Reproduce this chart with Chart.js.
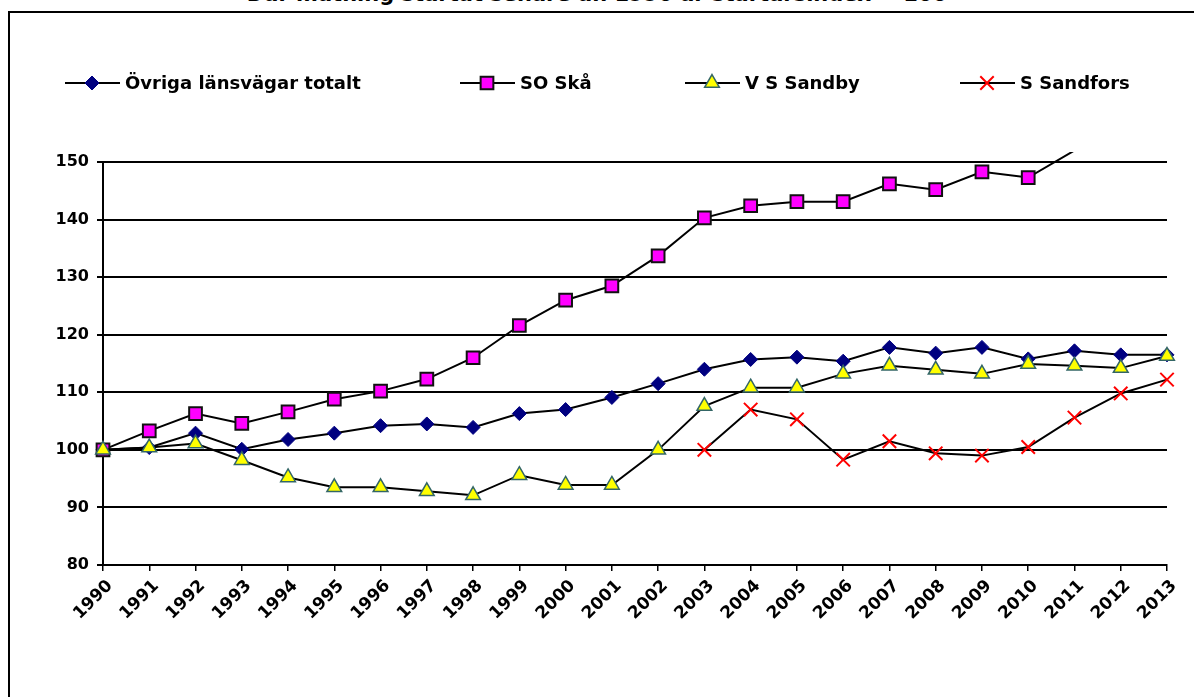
<!DOCTYPE html>
<html>
<head>
<meta charset="utf-8">
<script src="https://cdn.jsdelivr.net/npm/chart.js@4/dist/chart.umd.min.js"></script>
<style>
  html, body { margin:0; padding:0; background:#fff; overflow:hidden; }
  #wrap { position:relative; width:1194px; height:697px; overflow:hidden; }
  #frame { position:absolute; left:8px; top:11px; width:1200px; height:700px; border:2px solid #000; box-sizing:border-box; }
  #title { position:absolute; left:0; top:-18px; width:1194px; text-align:center; font:bold 21px 'DejaVu Sans', sans-serif; color:#000; white-space:nowrap; }
  canvas { position:absolute; left:0; top:0; }
</style>
</head>
<body>
<div id="wrap">
  <div id="title">Där mätning startat senare än 1990 är startårsindex = 100</div>
  <div id="frame"></div>
  <canvas id="c" width="1194" height="697"></canvas>
</div>
<script>
const years = ['1990','1991','1992','1993','1994','1995','1996','1997','1998','1999','2000','2001','2002','2003','2004','2005','2006','2007','2008','2009','2010','2011','2012','2013'];
const seriesNames = ['Övriga länsvägar totalt', 'SO Skå', 'V S Sandby', 'S Sandfors'];
const ovriga   = [100, 100.4, 102.9, 100.1, 101.8, 102.9, 104.2, 104.5, 103.9, 106.3, 107.0, 109.1, 111.5, 114.0, 115.7, 116.1, 115.4, 117.8, 116.8, 117.8, 115.8, 117.2, 116.5, 116.5];
const soSka    = [100, 103.3, 106.3, 104.6, 106.6, 108.8, 110.2, 112.3, 116.0, 121.6, 126.0, 128.5, 133.7, 140.3, 142.4, 143.1, 143.1, 146.2, 145.2, 148.3, 147.3, 152.0, 156.0, 158.0];
const vsSandby = [100, 100.4, 101.1, 98.2, 95.2, 93.5, 93.5, 92.8, 92.1, 95.6, 93.9, 93.9, 100.0, 107.6, 110.8, 110.8, 113.2, 114.6, 113.9, 113.2, 114.9, 114.6, 114.2, 116.3];
const sSandfors = [null, null, null, null, null, null, null, null, null, null, null, null, null, 100.0, 107.0, 105.3, 98.3, 101.5, 99.4, 99.0, 100.5, 105.6, 109.8, 112.2];
const yMin = 80, yMax = 150, yStep = 10;

const FONT = "'DejaVu Sans', sans-serif";
const legendX = [65, 460, 685, 960];
const legendY = 83;

function radiusFn(r) {
  return ctx => (ctx.raw !== null && ctx.raw > yMax) ? 0 : r;
}

const clipArea = {left: 14, right: 14, top: 10, bottom: 14};

const datasets = [
  { label: seriesNames[0], data: ovriga, borderColor:'#000', borderWidth:2, tension:0,
    pointStyle:'rectRot', pointRadius: radiusFn(7), pointBackgroundColor:'#000080', pointBorderColor:'#000080', pointBorderWidth:1, order:3, clip: clipArea },
  { label: seriesNames[1], data: soSka, borderColor:'#000', borderWidth:2, tension:0,
    pointStyle:'rect', pointRadius: radiusFn(9), pointBackgroundColor:'#FF00FF', pointBorderColor:'#111', pointBorderWidth:2, order:2, clip: clipArea },
  { label: seriesNames[2], data: vsSandby, borderColor:'#000', borderWidth:2, tension:0,
    pointStyle:'triangle', pointRadius: radiusFn(8.5), pointBackgroundColor:'#FFFF00', pointBorderColor:'#336666', pointBorderWidth:1.5, order:1, clip: clipArea },
  { label: seriesNames[3], data: sSandfors, borderColor:'#000', borderWidth:2, tension:0,
    pointStyle:'crossRot', pointRadius: radiusFn(9.5), pointBackgroundColor:'#FF0000', pointBorderColor:'#FF0000', pointBorderWidth:2, order:0, clip: clipArea }
];

const legendPlugin = {
  id: 'customLegend',
  afterDraw(chart) {
    const ctx = chart.ctx;
    chart.data.datasets.forEach((ds, i) => {
      const x0 = legendX[i];
      ctx.save();
      ctx.strokeStyle = '#000';
      ctx.lineWidth = 2;
      ctx.beginPath();
      ctx.moveTo(x0, legendY);
      ctx.lineTo(x0 + 55, legendY);
      ctx.stroke();
      const r = typeof ds.pointRadius === 'function' ? ds.pointRadius({raw: 0}) : ds.pointRadius;
      ctx.fillStyle = ds.pointBackgroundColor;
      ctx.strokeStyle = ds.pointBorderColor;
      ctx.lineWidth = ds.pointBorderWidth;
      Chart.helpers.drawPoint(ctx, {pointStyle: ds.pointStyle, radius: r, borderWidth: ds.pointBorderWidth, rotation: 0}, x0 + 27, legendY);
      ctx.fillStyle = '#000';
      ctx.font = 'bold 18px ' + FONT;
      ctx.textBaseline = 'middle';
      ctx.textAlign = 'left';
      ctx.fillText(ds.label, x0 + 60, legendY + 1);
      ctx.restore();
    });
  }
};

new Chart(document.getElementById('c'), {
  type: 'line',
  data: { labels: years, datasets },
  options: {
    responsive: false,
    animation: false,
    layout: { padding: { top: 162, right: 27, bottom: 0, left: 0 } },
    plugins: { legend: { display: false }, title: { display: false }, tooltip: { enabled: false } },
    scales: {
      x: {
        type: 'category',
        offset: false,
        afterFit(scale) { scale.height = 132; },
        grid: { drawOnChartArea: false, drawTicks: true, tickLength: 6, color: '#000', lineWidth: 1.5 },
        border: { display: true, color: '#000', width: 2 },
        ticks: { color: '#000', font: { family: FONT, size: 17, weight: 'bold' }, minRotation: 45, maxRotation: 45, autoSkip: false, labelOffset: 7, padding: 5 }
      },
      y: {
        min: yMin, max: yMax,
        afterFit(scale) { scale.width = 103; },
        grid: { color: '#000', lineWidth: 2, tickLength: 6, drawTicks: true },
        border: { display: true, color: '#000', width: 2 },
        ticks: { stepSize: yStep, color: '#000', font: { family: FONT, size: 16, weight: 'bold' }, padding: 8 }
      }
    }
  },
  plugins: [legendPlugin]
});
</script>
</body>
</html>
